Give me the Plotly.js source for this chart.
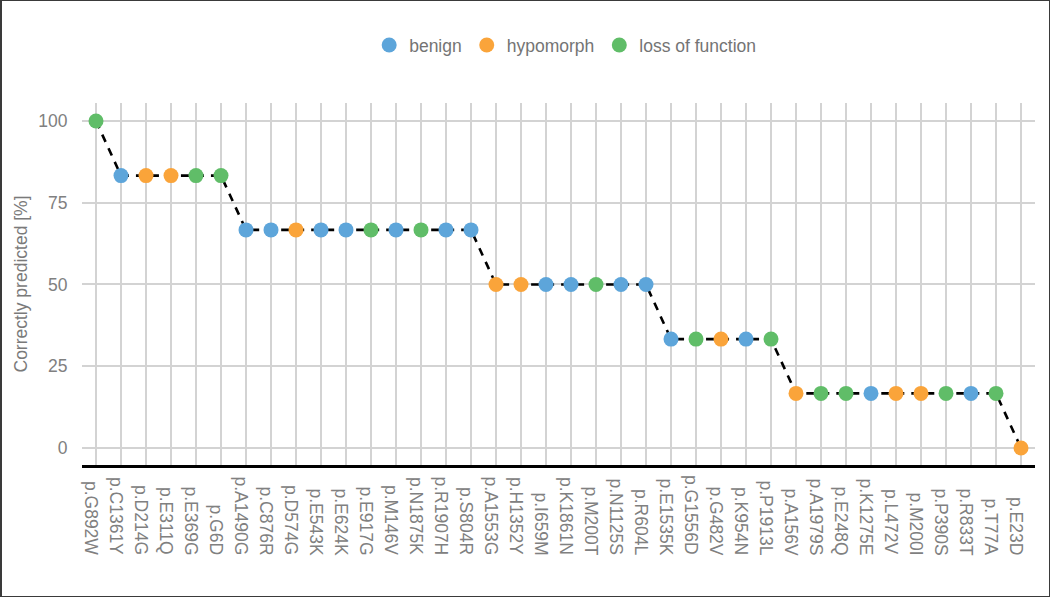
<!DOCTYPE html>
<html>
<head>
<meta charset="utf-8">
<script src="https://cdn.plot.ly/plotly-3.0.1.min.js"></script>
<style>
  html, body { margin: 0; padding: 0; background: #fff; }
  #chart { width: 1050px; height: 597px; }
  #frame { position: fixed; left: 0; top: 0; width: 1050px; height: 597px; box-sizing: border-box;
           border: 1px solid #3a3a3a; border-left-width: 2px; pointer-events: none; }
</style>
</head>
<body>
<div id="chart"></div>
<div id="frame"></div>
<script>
const variants = ["p.G892W","p.C1361Y","p.D214G","p.E311Q","p.E369G","p.G6D","p.A1490G","p.C876R","p.D574G","p.E543K",
  "p.E624K","p.E917G","p.M146V","p.N1875K","p.R1907H","p.S804R","p.A1553G","p.H1352Y","p.I659M","p.K1861N",
  "p.M200T","p.N1125S","p.R604L","p.E1535K","p.G1556D","p.G482V","p.K954N","p.P1913L","p.A156V","p.A1979S",
  "p.E248Q","p.K1275E","p.L472V","p.M200I","p.P390S","p.R833T","p.T77A","p.E23D"];
const correct = [100,83.3,83.3,83.3,83.3,83.3,66.7,66.7,66.7,66.7,
  66.7,66.7,66.7,66.7,66.7,66.7,50,50,50,50,
  50,50,50,33.3,33.3,33.3,33.3,33.3,16.7,16.7,
  16.7,16.7,16.7,16.7,16.7,16.7,16.7,0];
const effect = ["loss of function","benign","hypomorph","hypomorph","loss of function","loss of function","benign","benign","hypomorph","benign",
  "benign","loss of function","benign","loss of function","benign","benign","hypomorph","hypomorph","benign","benign",
  "loss of function","benign","benign","benign","loss of function","hypomorph","benign","loss of function","hypomorph","loss of function",
  "loss of function","benign","hypomorph","hypomorph","loss of function","benign","loss of function","hypomorph"];
const groups = ["benign","hypomorph","loss of function"];
const groupColors = ["#5DA5DA","#FAA43A","#60BD68"];
const yTicks = [0,25,50,75,100];

const traces = [{
  x: variants, y: correct, type: "scatter", mode: "lines",
  line: {color: "#000", width: 2.6, dash: "8px,7px"},
  showlegend: false, hoverinfo: "skip"
}];
groups.forEach((g, gi) => {
  const xs = [], ys = [];
  variants.forEach((v, i) => { if (effect[i] === g) { xs.push(v); ys.push(correct[i]); } });
  traces.push({
    x: xs, y: ys, type: "scatter", mode: "markers", name: g,
    marker: {color: groupColors[gi], size: 15}
  });
});

const labelAnn = variants.map(v => ({
  x: v, xref: "x", y: -0.254, yref: "paper", yanchor: "bottom", xanchor: "center",
  text: v, textangle: 90, showarrow: false, xshift: -5,
  font: {family: "Liberation Sans, Arial, sans-serif", size: 17.5, color: "#808080"}
}));

const layout = {
  width: 1050, height: 597,
  margin: {l: 82, r: 15, t: 103, b: 132},
  paper_bgcolor: "#fff", plot_bgcolor: "#fff",
  font: {family: "Liberation Sans, Arial, sans-serif", size: 17.5, color: "#808080"},
  showlegend: true,
  legend: {orientation: "h", x: 0.507, xanchor: "center", y: 1.16, yanchor: "middle",
           font: {size: 17.5, color: "#747474"}, itemclick: false},
  xaxis: {type: "category", categoryorder: "array", categoryarray: variants,
          range: [-0.56, variants.length - 1 + 0.56],
          showgrid: true, gridcolor: "#d3d3d3", gridwidth: 2,
          showline: true, linecolor: "#000", linewidth: 3,
          showticklabels: false, ticks: "", zeroline: false, fixedrange: true},
  yaxis: {range: [-5.2, 105.5], tickvals: yTicks, ticktext: yTicks.map(String),
          showgrid: true, gridcolor: "#d3d3d3", gridwidth: 2, zeroline: false,
          ticks: "outside", ticklen: 10, tickcolor: "rgba(0,0,0,0)",
          tickfont: {size: 17.5, color: "#808080"},
          title: {text: "Correctly predicted [%]", standoff: 6, font: {size: 17.5, color: "#7a7a7a"}},
          fixedrange: true},
  annotations: labelAnn
};
Plotly.newPlot("chart", traces, layout, {displayModeBar: false, staticPlot: true});
</script>
</body>
</html>
